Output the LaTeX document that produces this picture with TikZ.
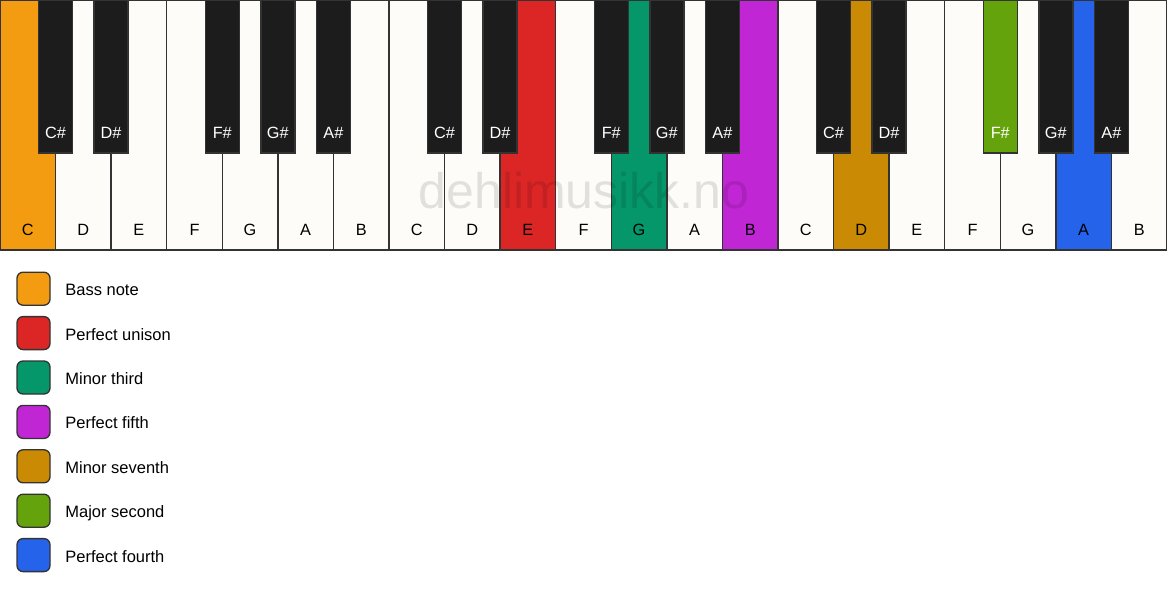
\documentclass[tikz,border=0pt]{standalone}
\usepackage{fontspec}
\setmainfont{Liberation Sans}
\usetikzlibrary{positioning}

\definecolor{keywhite}{HTML}{FDFCF9}
\definecolor{keyblack}{HTML}{1C1C1C}
\definecolor{keyline}{HTML}{333333}
\definecolor{bassnote}{HTML}{F39C12}
\definecolor{unison}{HTML}{DC2626}
\definecolor{minthird}{HTML}{059669}
\definecolor{perfifth}{HTML}{C026D3}
\definecolor{minseventh}{HTML}{CA8A04}
\definecolor{majsecond}{HTML}{65A30D}
\definecolor{perfourth}{HTML}{2563EB}

\begin{document}
\begin{tikzpicture}[x=1pt, y=-1pt,
  whitekey/.style={rectangle, draw=keyline, line width=1.3pt, anchor=north west, inner sep=0pt, outer sep=0pt, minimum width=55.571pt, minimum height=250pt},
  blackkey/.style={rectangle, draw=keyline, line width=1.3pt, anchor=north, inner sep=0pt, outer sep=0pt, minimum width=34pt, minimum height=153pt},
  whitelabel/.style={inner sep=0pt, text height=11.6pt, text depth=0pt, font=\fontsize{16.3}{19}\selectfont, text=black},
  blacklabel/.style={inner sep=0pt, text height=11.6pt, text depth=0pt, font=\fontsize{16.3}{19}\selectfont, text=white},
  swatch/.style={rectangle, rounded corners=6pt, draw=keyline, line width=1.3pt, minimum size=33pt, inner sep=0pt},
  legendtext/.style={inner sep=0pt, text height=11.6pt, text depth=0pt, anchor=west, font=\fontsize{16.5}{19}\selectfont},
  watermark/.style={inner sep=0pt, font=\fontsize{50}{58}\selectfont, text=black, text opacity=0.11}]

\useasboundingbox (0,0) rectangle (1167,594);
\def\kw{55.571}

% white keys
\foreach \i/\n/\c in {0/C/bassnote, 1/D/keywhite, 2/E/keywhite, 3/F/keywhite, 4/G/keywhite, 5/A/keywhite, 6/B/keywhite,
    7/C/keywhite, 8/D/keywhite, 9/E/unison, 10/F/keywhite, 11/G/minthird, 12/A/keywhite, 13/B/perfifth,
    14/C/keywhite, 15/D/minseventh, 16/E/keywhite, 17/F/keywhite, 18/G/keywhite, 19/A/perfourth, 20/B/keywhite} {
  \node[whitekey, fill=\c] (w\i) at (\i*\kw, 0) {};
  \node[whitelabel] (wl\i) at ([yshift=20pt]w\i.south) {\n};
}

% black keys
\foreach \k/\n/\c in {1/C\#/keyblack, 2/D\#/keyblack, 4/F\#/keyblack, 5/G\#/keyblack, 6/A\#/keyblack,
    8/C\#/keyblack, 9/D\#/keyblack, 11/F\#/keyblack, 12/G\#/keyblack, 13/A\#/keyblack,
    15/C\#/keyblack, 16/D\#/keyblack, 18/F\#/majsecond, 19/G\#/keyblack, 20/A\#/keyblack} {
  \node[blackkey, fill=\c] (b\k) at (\k*\kw, 0) {};
  \node[blacklabel] (bl\k) at ([yshift=20pt]b\k.south) {\n};
}

% legend
\foreach \j/\c/\t in {0/bassnote/Bass note, 1/unison/Perfect unison, 2/minthird/Minor third, 3/perfifth/Perfect fifth,
    4/minseventh/Minor seventh, 5/majsecond/Major second, 6/perfourth/Perfect fourth} {
  \node[swatch, fill=\c] (s\j) at (33.5, 288.7+44.4*\j) {};
  \node[legendtext, right=14.5pt of s\j, yshift=-1.2pt] (t\j) {\t};
}

\node[watermark] (wm) at (584, 191) {dehlimusikk.no};

\end{tikzpicture}
\end{document}
